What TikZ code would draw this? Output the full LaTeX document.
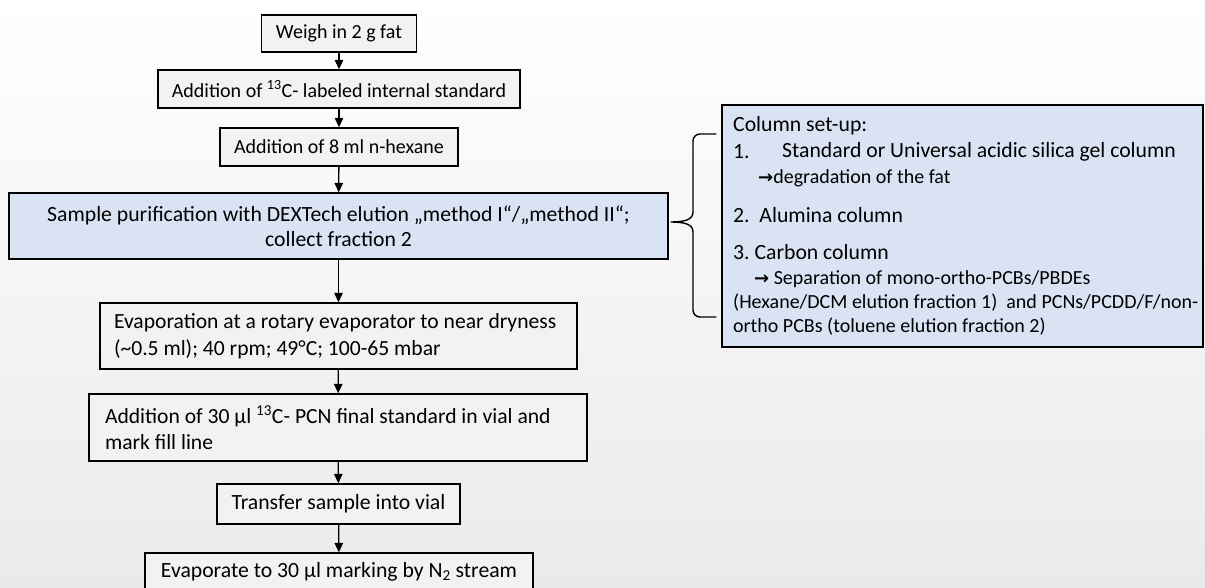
\documentclass[tikz,border=0pt]{standalone}
\usepackage{fontspec}
\setmainfont{Carlito}
\newfontfamily\dv{DejaVu Sans}
\usetikzlibrary{arrows.meta}
\definecolor{graybox}{RGB}{242,242,242}
\definecolor{bluebox}{RGB}{218,227,243}
\definecolor{bgbot}{RGB}{234,234,234}
\newcommand{\fs}[2]{\fontsize{#1}{#2}\selectfont}
\newcommand{\rarr}{{\dv\bfseries\fs{18}{20}\raisebox{-0.5pt}{→}}}
\frenchspacing
\tikzset{
  stepbox/.style={draw=black, line width=1.4pt, fill=graybox, inner sep=0pt, align=center, font=\fs{20}{25}},
  bluestep/.style={stepbox, fill=bluebox},
  flow/.style={line width=1.3pt, -{Triangle[width=8.5pt,length=9.5pt]}},
  rtext/.style={anchor=west, inner sep=0pt, font=\fs{20}{24}},
  rbig/.style={rtext, font=\fs{21.7}{24}},
}
\begin{document}
\begin{tikzpicture}[x=1pt,y=-1pt]
\useasboundingbox (0,0) rectangle (1205,588);
\clip (0,0) rectangle (1205,588);
\shade[top color=white, bottom color=bgbot] (0,0) rectangle (1205,588);

\node[stepbox, minimum width=155pt, minimum height=37pt] (b1) at (339,33.5) {Weigh in 2 g fat};
\node[stepbox, minimum width=362pt, minimum height=38pt] (b2) at (339,89) {Addition of \textsuperscript{13}C- labeled internal standard};
\node[stepbox, minimum width=238pt, minimum height=38pt] (b3) at (339,147) {Addition of 8 ml n-hexane};
\node[bluestep, minimum width=659pt, minimum height=66pt, font=\fs{21.7}{25}] (b4) at (338.5,226) {Sample purification with DEXTech elution „method I“/„method II“;\\collect fraction 2};
\node[stepbox, minimum width=477pt, minimum height=66pt, text width=463pt, align=flush left, font=\fs{21.6}{27}] (b5) at (338.5,336) {\hspace*{7pt}Evaporation at a rotary evaporator to near dryness\\\hspace*{7pt}(\textasciitilde0.5 ml); 40 rpm; 49°C; 100-65 mbar};
\node[stepbox, minimum width=498pt, minimum height=67pt, text width=484pt, align=flush left, font=\fs{21.6}{26}] (b6) at (338,427.5) {\hspace*{9pt}Addition of 30 µl \textsuperscript{13}C- PCN final standard in vial and\\\hspace*{9pt}mark fill line};
\node[stepbox, minimum width=243pt, minimum height=40pt, font=\fs{21.7}{25}] (b7) at (338.5,504) {Transfer sample into vial};
\node[stepbox, minimum width=388pt, minimum height=38pt, font=\fs{21.7}{25}] (b8) at (339,572) {Evaporate to 30 µl marking by N\textsubscript{2} stream};

\draw[flow] (b1) -- (b2);
\draw[flow] (b2) -- (b3);
\draw[flow] (b3) -- (b4);
\draw[flow] (b4) -- (b5);
\draw[flow] (b5) -- (b6);
\draw[flow] (b6) -- (b7);
\draw[flow] (b7) -- (b8);

% right box
\node[draw=black, line width=1.4pt, fill=bluebox, inner sep=0pt, minimum width=481pt, minimum height=242pt] (rbox) at (962.5,226) {};
\node[rbig] (r0) at (733,126) {Column set-up:};
\node[rbig] (r1a) at (733,152) {1.};
\node[rbig] (r1b) at (782,152) {Standard or Universal acidic silica gel column};
\node[rtext] (r2) at (758,178) {\rarr degradation of the fat};
\node[rbig] (r3) at (733,215) {2.\ \ Alumina column};
\node[rbig] (r4) at (733,252) {3. Carbon column};
\node[rtext] (r5) at (754,279) {\rarr\ Separation of mono-ortho-PCBs/PBDEs};
\node[rtext] (r6) at (733,303) {(Hexane/DCM elution fraction 1)\ \ and PCNs/PCDD/F/non-};
\node[rtext] (r7) at (733,327) {ortho PCBs (toluene elution fraction 2)};

% brace
\coordinate (tip) at ([xshift=2pt,yshift=4pt]b4.east);
\draw[line width=1.4pt] ([xshift=-5pt,yshift=92pt]rbox.west) -- (700,134) to[out=180,in=90] (693,141) -- (693,212)
  .. controls (693,220) and (684,222) .. (tip)
  .. controls (684,222) and (693,224) .. (693,232) -- (693,310) to[out=-90,in=180] (700,317) -- ([xshift=-5pt,yshift=-91pt]rbox.west);
\end{tikzpicture}
\end{document}
